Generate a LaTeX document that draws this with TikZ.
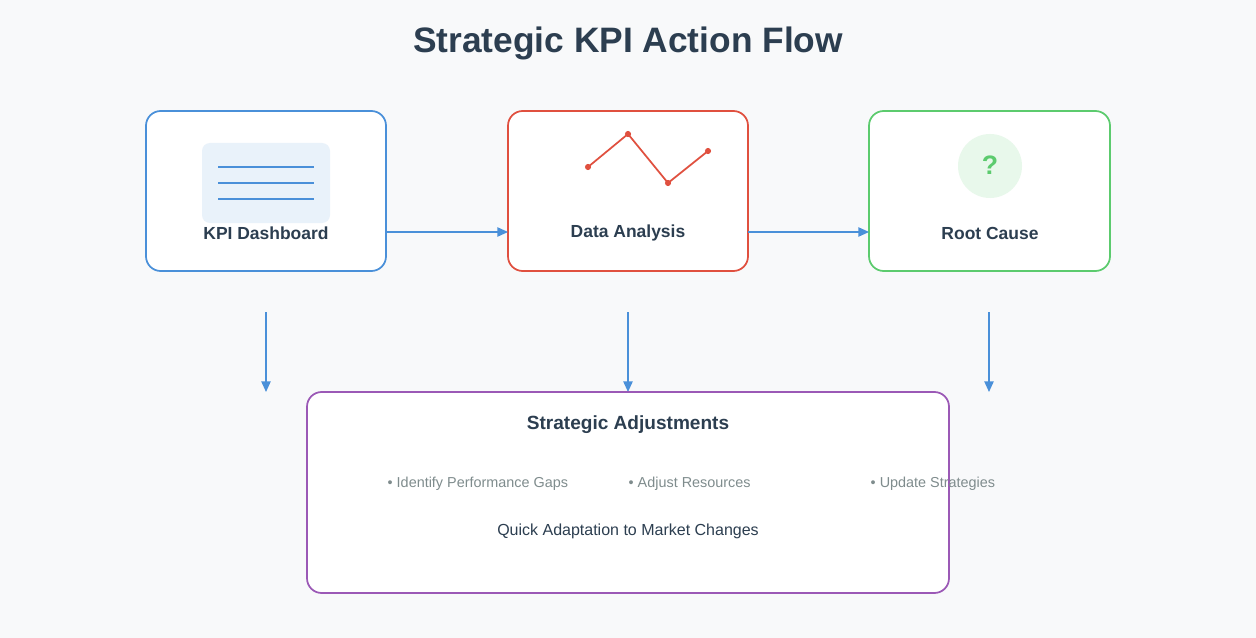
\documentclass[tikz,border=0pt]{standalone}
\usepackage{fontspec}
\setmainfont{Liberation Sans}
\usetikzlibrary{arrows.meta}
\definecolor{bg}{HTML}{F8F9FA}
\definecolor{dark}{HTML}{2C3E50}
\definecolor{cblue}{HTML}{4A90D9}
\definecolor{cred}{HTML}{E0503F}
\definecolor{cgreen}{HTML}{5CCB6E}
\definecolor{cpurple}{HTML}{9B59B6}
\definecolor{cgray}{HTML}{7F8C8D}
\begin{document}
\begin{tikzpicture}[x=0.75pt,y=-0.75pt,
  card/.style={draw,line width=1.3pt,fill=white,rounded corners=11pt},
  lbl/.style={font=\bfseries\fontsize{13.1}{15}\selectfont,text=dark},
  arr/.style={draw=cblue,line width=1.1pt,-{Triangle[length=8pt,width=7pt]}},
  bul/.style={font=\fontsize{10.8}{13}\selectfont,text=cgray,anchor=west}]
\fill[bg] (0,0) rectangle (1256,638);
\useasboundingbox (0,0) rectangle (1256,638);
\node[font=\bfseries\fontsize{26.5}{30}\selectfont,text=dark] (title) at (628,43) {Strategic KPI Action Flow};
% cards
\draw[card,draw=cblue] (146,111) rectangle (386,271);
\draw[card,draw=cred] (508,111) rectangle (748,271);
\draw[card,draw=cgreen] (869,111) rectangle (1110,271);
\coordinate (k) at (386,232); \coordinate (dl) at (508,232);
\coordinate (dr) at (748,232); \coordinate (rl) at (869,232);
% KPI icon
\fill[cblue!12,rounded corners=6pt] (202,143) rectangle (330,223);
\foreach \yy in {167,183,199} \draw[cblue,line width=0.9pt] (218,\yy) -- (314,\yy);
% chart
\draw[cred,line width=1.3pt] (588,167) -- (628,134) -- (668,183) -- (708,151);
\foreach \p in {(588,167),(628,134),(668,183),(708,151)} \fill[cred] \p circle (2.3pt);
% question
\fill[cgreen!14] (990,166) circle (32*0.75pt);
\node[font=\bfseries\fontsize{20}{24}\selectfont,text=cgreen] (q) at (990,165) {?};
\node[lbl] (l1) at (266,233) {KPI Dashboard};
\node[lbl] (l2) at (628,233) {Data Analysis};
\node[lbl] (l3) at (990,233) {Root Cause};
\draw[arr] (k) -- (dl);
\draw[arr] (dr) -- (rl);
% vertical
\foreach \xx in {266,628,989} {\coordinate (s\xx) at (\xx,312); \coordinate (e\xx) at (\xx,392); \draw[arr] (s\xx) -- (e\xx);}
% bottom
\draw[card,draw=cpurple] (307,392) rectangle (949,593);
\node[font=\bfseries\fontsize{14.3}{17}\selectfont,text=dark] (bt) at (628,425) {Strategic Adjustments};
\node[bul] (b1) at (383,484) {• Identify Performance Gaps};
\node[bul] (b2) at (624,484) {• Adjust Resources};
\node[bul] (b3) at (866,484) {• Update Strategies};
\node[font=\fontsize{12}{14}\selectfont,text=dark] (qa) at (628,531) {Quick Adaptation to Market Changes};
\end{tikzpicture}
\end{document}
